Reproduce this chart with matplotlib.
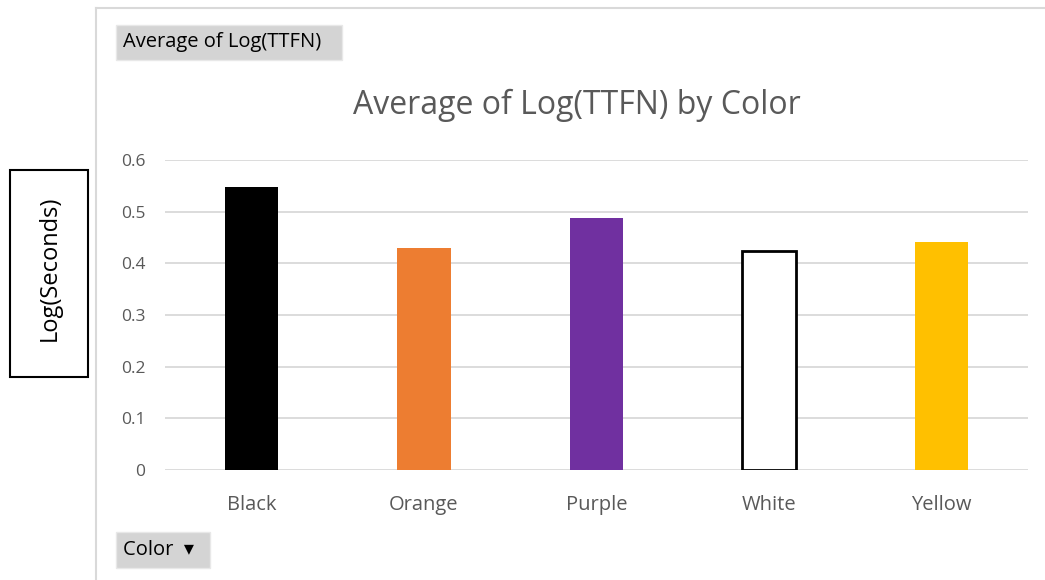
import numpy as np
import matplotlib.pyplot as plt
from matplotlib.patches import Rectangle
from matplotlib.lines import Line2D

plt.rcParams['font.family'] = ['Open Sans', 'DejaVu Sans']

colors = ["Black", "Orange", "Purple", "White", "Yellow"]
avg_log_ttfn = [0.548, 0.430, 0.488, 0.424, 0.441]
bar_fill = ["#000000", "#ED7D31", "#7030A0", "#FFFFFF", "#FFC000"]
y_ticks = [0, 0.1, 0.2, 0.3, 0.4, 0.5, 0.6]
y_tick_labels = ["0", "0.1", "0.2", "0.3", "0.4", "0.5", "0.6"]

W, H = 1045, 580
fig = plt.figure(figsize=(W / 100, H / 100), dpi=100)

# axes placed in pixel coords
ax = fig.add_axes([165 / W, 1 - 470 / H, (1028 - 165) / W, (470 - 160) / H])
x = np.arange(len(colors))
ax.bar(x, avg_log_ttfn, width=0.31, color=bar_fill,
       edgecolor=["#000000", "none", "none", "#000000", "none"],
       linewidth=[0, 0, 0, 2, 0], zorder=3)
ax.set_xlim(-0.5, len(colors) - 0.5)
ax.set_ylim(0, 0.6)
ax.set_yticks(y_ticks)
ax.set_yticklabels(y_tick_labels)
ax.set_xticks(x)
ax.set_xticklabels(colors)
ax.grid(axis='y', color='#d9d9d9', linewidth=1.3, zorder=0)
for s in ax.spines.values():
    s.set_visible(False)
ax.tick_params(length=0, colors='#595959')
ax.tick_params(axis='y', labelsize=12.5, pad=14)
ax.tick_params(axis='x', labelsize=14.5, pad=18)

fig.text(577 / W, 1 - 105 / H, "Average of Log(TTFN) by Color",
         ha='center', va='center', fontsize=23, color='#595959')

# chart frame
fig.add_artist(Line2D([96 / W, 96 / W], [0, 1 - 8 / H], color='#d9d9d9', lw=1.5,
                      transform=fig.transFigure))
fig.add_artist(Line2D([96 / W, 1], [1 - 8 / H, 1 - 8 / H], color='#d9d9d9', lw=1.5,
                      transform=fig.transFigure))

# pivot field buttons
def button(x0, y0, x1, y1, label):
    fig.add_artist(Rectangle((x0 / W, 1 - y1 / H), (x1 - x0) / W, (y1 - y0) / H,
                             transform=fig.transFigure, facecolor='#d4d4d4',
                             edgecolor='#e8e8e8', lw=1))
    fig.text((x0 + 7) / W, 1 - (y0 + y1) / 2 / H, label, ha='left', va='center',
             fontsize=14.5, color='#000000')

button(116, 25, 342, 60, "Average of Log(TTFN)")
button(116, 532, 210, 568, "Color  \u25BE")

# y axis title box
fig.add_artist(Rectangle((10 / W, 1 - 377 / H), 78 / W, 207 / H,
                         transform=fig.transFigure, facecolor='white',
                         edgecolor='black', lw=1.5))
fig.text(50 / W, 1 - 268 / H, "Log(Seconds)", rotation=90, ha='center', va='center',
         fontsize=17, color='#000000')

fig.savefig("out.png", dpi=100)
